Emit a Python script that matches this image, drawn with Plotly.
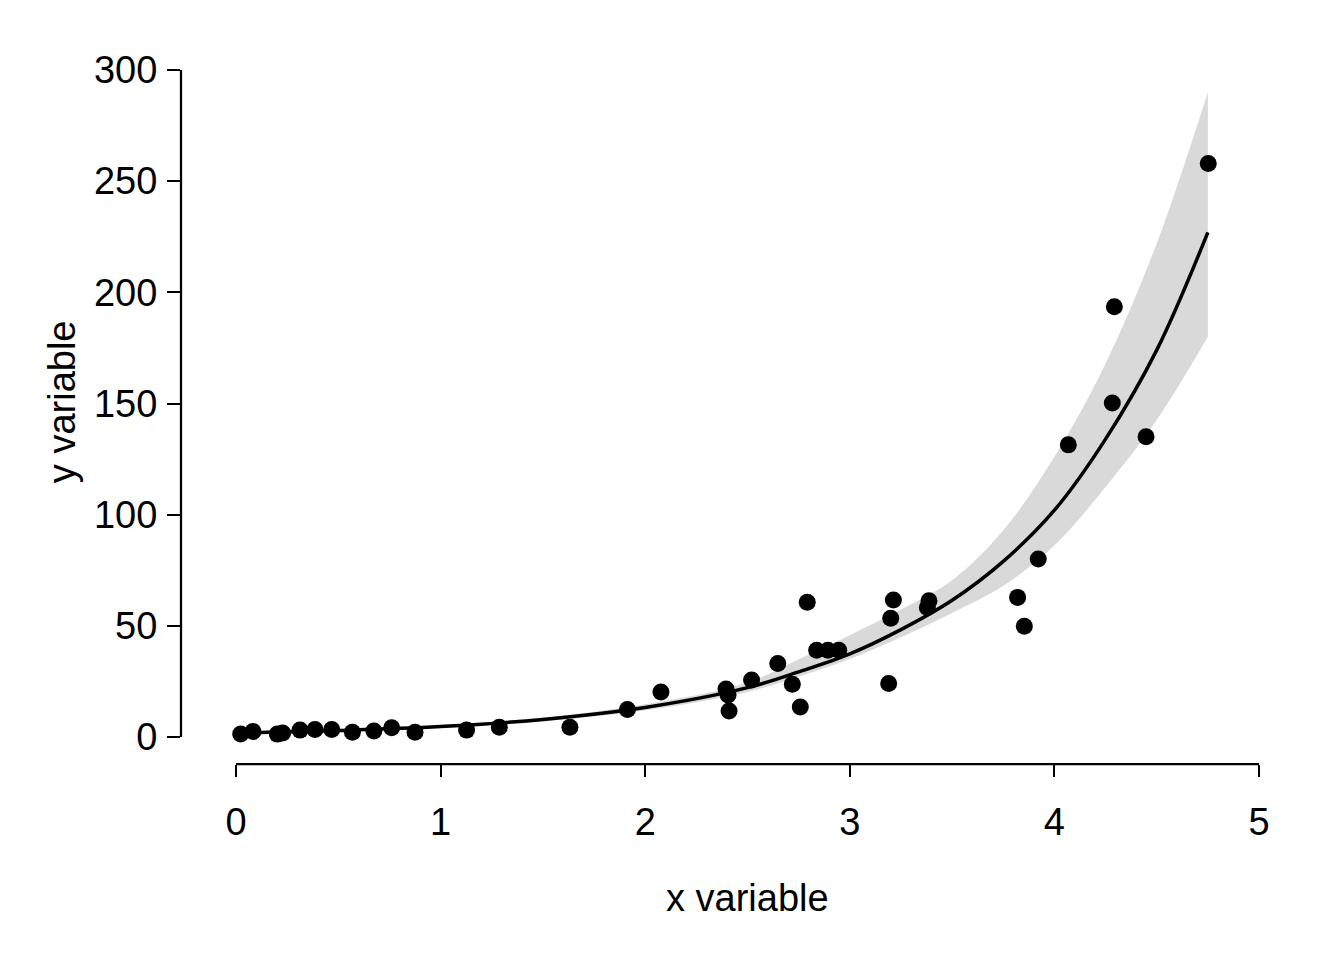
import plotly.graph_objects as go

# observed points
x_obs = [0.023, 0.083, 0.202, 0.228, 0.313, 0.386, 0.468, 0.569, 0.674, 0.761,
         0.875, 1.127, 1.287, 1.632, 1.913,
         2.077, 2.395, 2.405, 2.410, 2.520, 2.648, 2.719, 2.758, 2.792, 2.838,
         2.893, 2.946, 3.190, 3.200, 3.213, 3.387, 3.379,
         3.820, 3.853, 3.921, 4.068, 4.283, 4.293, 4.448, 4.752]
y_obs = [1.4, 2.5, 1.3, 1.8, 3.1, 3.4, 3.4, 2.1, 2.7, 4.2,
         2.1, 3.1, 4.4, 4.4, 12.4,
         20.2, 21.6, 18.9, 11.7, 25.6, 33.1, 23.7, 13.5, 60.6, 39.0,
         39.0, 39.0, 24.1, 53.4, 61.6, 61.3, 58.2,
         62.8, 49.8, 80.1, 131.4, 150.2, 193.5, 135.1, 258.0]

# fitted curve and its band
x_fit = [0.02, 0.5, 1.0, 1.5, 2.0, 2.5, 2.75, 3.0, 3.25, 3.5, 3.75, 4.0, 4.25, 4.5, 4.75]
y_fit = [1.8, 2.9, 4.7, 7.9, 13.3, 22.2, 29.3, 37.4, 48.3, 61.5, 79.0, 102.0, 134.0, 174.0, 227.0]
y_upr = [2.3, 3.5, 5.4, 8.8, 14.7, 24.5, 35.0, 45.8, 57.3, 70.5, 93.0, 126.0, 168.0, 222.0, 290.0]
y_lwr = [1.4, 2.4, 4.1, 7.0, 12.0, 20.3, 27.1, 35.1, 44.9, 55.8, 68.0, 86.1, 112.5, 142.6, 180.0]

x_ticks = [0, 1, 2, 3, 4, 5]
y_ticks = [0, 50, 100, 150, 200, 250, 300]

FONT = "Liberation Sans, Arial, sans-serif"
FS = 38

fig = go.Figure()
fig.add_trace(go.Scatter(x=x_fit, y=y_lwr, mode="lines", line=dict(width=0, shape="spline"),
                         hoverinfo="skip", showlegend=False))
fig.add_trace(go.Scatter(x=x_fit, y=y_upr, mode="lines", line=dict(width=0, shape="spline"),
                         fill="tonexty", fillcolor="#d9d9d9", hoverinfo="skip", showlegend=False))
fig.add_trace(go.Scatter(x=x_fit, y=y_fit, mode="lines",
                         line=dict(color="black", width=3.5, shape="spline"), showlegend=False))
fig.add_trace(go.Scatter(x=x_obs, y=y_obs, mode="markers",
                         marker=dict(color="black", size=17), showlegend=False))

# R style axis lines spanning only the tick range
fig.add_shape(type="line", xref="x", yref="paper", x0=x_ticks[0], x1=x_ticks[-1], y0=0, y1=0,
              line=dict(color="black", width=2.25))
fig.add_shape(type="line", xref="paper", yref="y", x0=0, x1=0, y0=y_ticks[0], y1=y_ticks[-1],
              line=dict(color="black", width=2.25))

fig.update_xaxes(range=[-0.2688, 5.2639], showgrid=False, zeroline=False, showline=False,
                 tickmode="array", tickvals=x_ticks, ticks="outside", ticklen=12, tickwidth=2.25,
                 tickcolor="black", ticklabelstandoff=12,
                 tickfont=dict(family=FONT, size=FS, color="black"))
fig.update_yaxes(range=[-12.14, 313.5], showgrid=False, zeroline=False, showline=False,
                 tickmode="array", tickvals=y_ticks, ticks="outside", ticklen=13, tickwidth=2.25,
                 tickcolor="black", ticklabelstandoff=2,
                 tickfont=dict(family=FONT, size=FS, color="black"))

fig.add_annotation(text="x variable", xref="paper", yref="paper", x=0.5, y=-0.185,
                   xanchor="center", yanchor="middle", showarrow=False,
                   font=dict(family=FONT, size=FS, color="black"))
fig.add_annotation(text="y variable", xref="paper", yref="paper", x=-0.105, y=0.5,
                   xanchor="center", yanchor="middle", textangle=-90, showarrow=False,
                   font=dict(family=FONT, size=FS, color="black"))

fig.update_layout(width=1344, height=960, margin=dict(l=173, r=39, t=32, b=204),
                  plot_bgcolor="white", paper_bgcolor="white")

fig.write_html("out.html")
